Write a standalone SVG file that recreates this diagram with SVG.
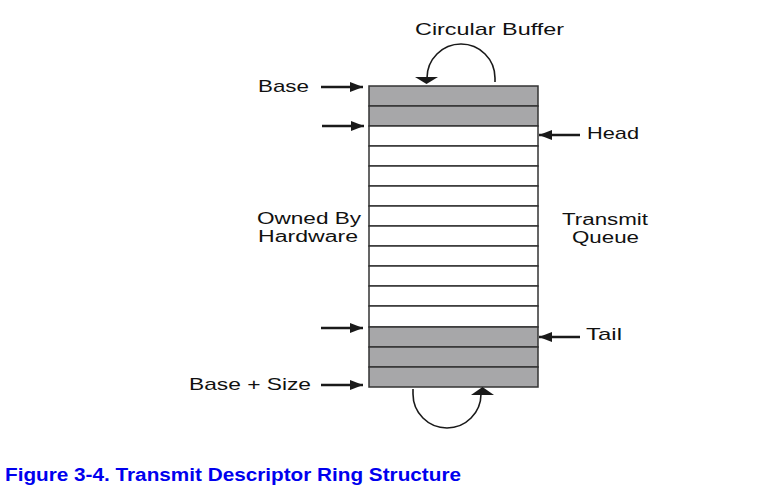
<svg xmlns="http://www.w3.org/2000/svg" width="764" height="493" viewBox="0 0 764 493">
<defs>
<marker id="ah" viewBox="0 0 13 10" refX="13" refY="5" markerWidth="13" markerHeight="10" markerUnits="userSpaceOnUse" orient="auto">
<path d="M0,0 L13,5 L0,10 Z" fill="#1a1a1a"/>
</marker>
<style>
.lbl{font-family:"Liberation Sans",Arial,sans-serif;font-size:17px;fill:#111}
.lbs{font-family:"Liberation Sans",Arial,sans-serif;font-size:16px;fill:#111}
.ar{stroke:#1a1a1a;stroke-width:2.4;fill:none;marker-end:url(#ah)}
.arc{stroke:#1a1a1a;stroke-width:1.6;fill:none}
.g{fill:#a7a7a9;stroke:#333;stroke-width:1.5}
.w{fill:#fff;stroke:#333;stroke-width:1.5}
.cap{font-family:"Liberation Sans",Arial,sans-serif;font-size:18px;font-weight:bold;fill:#0000ee}
</style>
</defs>
<rect width="764" height="493" fill="#fff"/>
<g id="ring">
<rect class="g" x="369" y="86" width="169" height="20"/>
<rect class="g" x="369" y="106" width="169" height="20"/>
<rect class="w" x="369" y="126" width="169" height="20"/>
<rect class="w" x="369" y="146" width="169" height="20"/>
<rect class="w" x="369" y="166" width="169" height="20"/>
<rect class="w" x="369" y="186" width="169" height="20"/>
<rect class="w" x="369" y="206" width="169" height="20"/>
<rect class="w" x="369" y="226" width="169" height="20"/>
<rect class="w" x="369" y="246" width="169" height="20"/>
<rect class="w" x="369" y="266" width="169" height="20"/>
<rect class="w" x="369" y="286" width="169" height="20"/>
<rect class="w" x="369" y="306" width="169" height="21"/>
<rect class="g" x="369" y="327" width="169" height="20"/>
<rect class="g" x="369" y="347" width="169" height="20"/>
<rect class="g" x="369" y="367" width="169" height="20"/>
</g>
<g id="connectors">
<line class="ar" x1="321" y1="87" x2="363" y2="87"/>
<line class="ar" x1="322" y1="126" x2="364" y2="126"/>
<line class="ar" x1="321" y1="328" x2="363" y2="328"/>
<line class="ar" x1="321" y1="385" x2="363" y2="385"/>
<line class="ar" x1="580" y1="135" x2="539" y2="135"/>
<line class="ar" x1="580" y1="337" x2="539" y2="337"/>
<path class="arc" d="M495,82 L495,78 A34,34 0 0 0 427,78"/>
<path d="M415,77 L438,77 L426.5,84 Z" fill="#1a1a1a"/>
<path class="arc" d="M413,389 L413,394 A34,34 0 0 0 481,394 L481,390"/>
<path d="M471,395 L494,395 L482.5,387 Z" fill="#1a1a1a"/>
</g>
<g id="labels">
<text class="lbl" x="415" y="35" textLength="149" lengthAdjust="spacingAndGlyphs">Circular Buffer</text>
<text class="lbl" x="258" y="92" textLength="51" lengthAdjust="spacingAndGlyphs">Base</text>
<text class="lbl" x="587" y="139" textLength="52" lengthAdjust="spacingAndGlyphs">Head</text>
<text class="lbs" x="257" y="224" textLength="104" lengthAdjust="spacingAndGlyphs">Owned By</text>
<text class="lbs" x="258" y="242" textLength="100" lengthAdjust="spacingAndGlyphs">Hardware</text>
<text class="lbs" x="562" y="225" textLength="86" lengthAdjust="spacingAndGlyphs">Transmit</text>
<text class="lbs" x="572" y="243" textLength="67" lengthAdjust="spacingAndGlyphs">Queue</text>
<text class="lbl" x="586" y="340" textLength="36" lengthAdjust="spacingAndGlyphs">Tail</text>
<text class="lbl" x="189" y="390" textLength="122" lengthAdjust="spacingAndGlyphs">Base + Size</text>
</g>
<text class="cap" x="5" y="481" textLength="456" lengthAdjust="spacingAndGlyphs">Figure 3-4. Transmit Descriptor Ring Structure</text>
</svg>
